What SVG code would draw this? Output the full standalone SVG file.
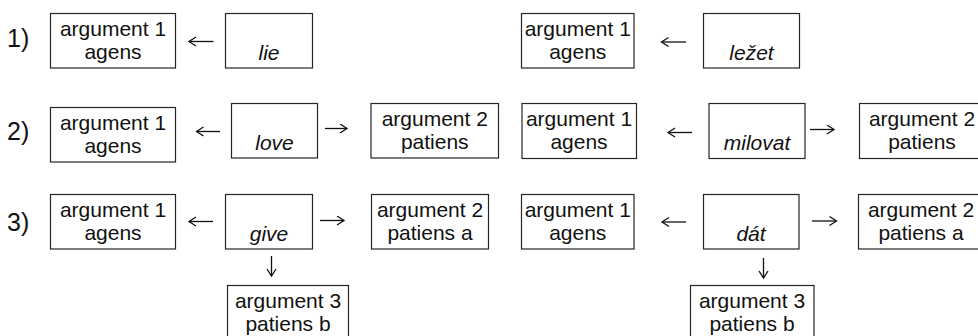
<svg xmlns="http://www.w3.org/2000/svg" width="978" height="336" viewBox="0 0 978 336">
<style>
.box{fill:#fff;stroke:#262626;stroke-width:1.2}
.t{font-family:"Liberation Sans",Arial,sans-serif;font-size:21px;fill:#111;text-anchor:middle}
.v{font-style:italic}
.num{font-family:"Liberation Sans",Arial,sans-serif;font-size:25px;fill:#111}
.c{fill:none;stroke:#111;stroke-width:1.3;marker-end:url(#h)}
</style>
<defs>
<marker id="h" markerUnits="userSpaceOnUse" markerWidth="12" markerHeight="12" viewBox="0 0 12 12" refX="8" refY="5" orient="auto">
<path d="M1,0.5 L8,5 L1,9.5" fill="none" stroke="#111" stroke-width="1.3"/>
</marker>
</defs>
<rect width="978" height="336" fill="#fff"/>
<g id="labels">
<text class="num" x="7" y="47">1)</text>
<text class="num" x="7" y="140">2)</text>
<text class="num" x="7" y="231">3)</text>
</g>
<g id="connectors">
<path class="c" d="M213.5,41.5 H189"/>
<path class="c" d="M686,42 H661.5"/>
<path class="c" d="M220,131.5 H196.5"/>
<path class="c" d="M325,128.5 H347"/>
<path class="c" d="M692,132.5 H668"/>
<path class="c" d="M810,129.5 H834"/>
<path class="c" d="M213,221.5 H189"/>
<path class="c" d="M320,220.5 H344"/>
<path class="c" d="M686,222 H662"/>
<path class="c" d="M812,221 H836.5"/>
<path class="c" d="M271.5,256 V276"/>
<path class="c" d="M763.5,258 V278"/>
</g>
<g id="l1a"><rect class="box" x="50.5" y="13.5" width="125" height="54.5"/><text class="t" x="113" y="35.5">argument 1</text><text class="t" x="113" y="58.5">agens</text></g>
<g id="l1v"><rect class="box" x="225.5" y="13.5" width="87" height="54.5"/><text class="t v" x="269" y="59.5">lie</text></g>
<g id="r1a"><rect class="box" x="521.5" y="13.5" width="112.5" height="54.5"/><text class="t" x="577.75" y="35.5">argument 1</text><text class="t" x="577.75" y="58.5">agens</text></g>
<g id="r1v"><rect class="box" x="703.5" y="13.5" width="96" height="54.5"/><text class="t v" x="751.5" y="59.5">ležet</text></g>
<g id="l2a"><rect class="box" x="50.5" y="107.5" width="125" height="54.5"/><text class="t" x="113" y="129.5">argument 1</text><text class="t" x="113" y="152.5">agens</text></g>
<g id="l2v"><rect class="box" x="231.5" y="103.5" width="86" height="54.5"/><text class="t v" x="274.5" y="149.5">love</text></g>
<g id="l2p"><rect class="box" x="371" y="103.5" width="127.5" height="54.5"/><text class="t" x="434.75" y="125.5">argument 2</text><text class="t" x="434.75" y="148.5">patiens</text></g>
<g id="r2a"><rect class="box" x="522" y="103.5" width="114.5" height="55"/><text class="t" x="579" y="125.5">argument 1</text><text class="t" x="579" y="148.5">agens</text></g>
<g id="r2v"><rect class="box" x="709" y="103.5" width="96" height="55"/><text class="t v" x="757" y="149.5">milovat</text></g>
<g id="r2p"><rect class="box" x="859.5" y="103.5" width="130" height="55"/><text class="t" x="922" y="125.5">argument 2</text><text class="t" x="922" y="148.5">patiens</text></g>
<g id="l3a"><rect class="box" x="50.5" y="194.5" width="125" height="54.5"/><text class="t" x="113" y="216.5">argument 1</text><text class="t" x="113" y="239.5">agens</text></g>
<g id="l3v"><rect class="box" x="225.5" y="194.5" width="87" height="54.5"/><text class="t v" x="269" y="240.5">give</text></g>
<g id="l3p"><rect class="box" x="371.5" y="194.5" width="117" height="54.5"/><text class="t" x="430" y="216.5">argument 2</text><text class="t" x="430" y="239.5">patiens a</text></g>
<g id="l3b"><rect class="box" x="227.5" y="285.5" width="121" height="60"/><text class="t" x="288" y="307.5">argument 3</text><text class="t" x="288" y="330.5">patiens b</text></g>
<g id="r3a"><rect class="box" x="521.5" y="194.5" width="112.5" height="54.5"/><text class="t" x="577.75" y="216.5">argument 1</text><text class="t" x="577.75" y="239.5">agens</text></g>
<g id="r3v"><rect class="box" x="703.5" y="194.5" width="95.5" height="54.5"/><text class="t v" x="751" y="240.5">dát</text></g>
<g id="r3p"><rect class="box" x="858.5" y="194.5" width="130" height="54.5"/><text class="t" x="921" y="216.5">argument 2</text><text class="t" x="921" y="239.5">patiens a</text></g>
<g id="r3b"><rect class="box" x="690.5" y="285.5" width="123.5" height="60"/><text class="t" x="752" y="307.5">argument 3</text><text class="t" x="752" y="330.5">patiens b</text></g>
</svg>
